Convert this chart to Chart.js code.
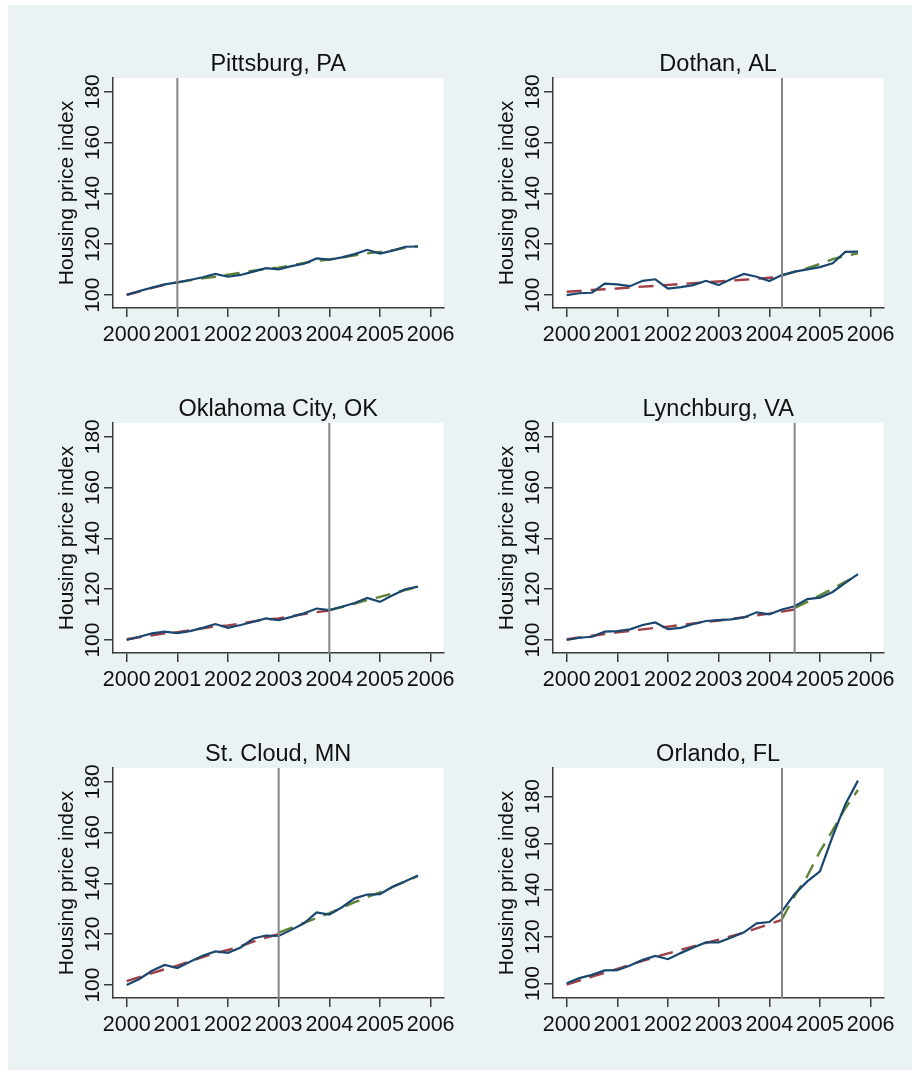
<!DOCTYPE html>
<html>
<head>
<meta charset="utf-8">
<script src="https://cdn.jsdelivr.net/npm/chart.js@4.4.1/dist/chart.umd.min.js"></script>
<style>
  body { margin: 0; background: #ffffff; }
  #bg { position: absolute; left: 8px; top: 5px; width: 904px; height: 1065px; background: #eaf2f3; }
  canvas { position: absolute; }
</style>
</head>
<body>
<div id="bg"></div>
<canvas id="c0" width="440" height="345" style="left:20px;top:30px"></canvas>
<canvas id="c1" width="440" height="345" style="left:460px;top:30px"></canvas>
<canvas id="c2" width="440" height="345" style="left:20px;top:375px"></canvas>
<canvas id="c3" width="440" height="345" style="left:460px;top:375px"></canvas>
<canvas id="c4" width="440" height="345" style="left:20px;top:720px"></canvas>
<canvas id="c5" width="440" height="345" style="left:460px;top:720px"></canvas>
<script>
// quarterly dates shared by every panel
const quarters = [2000, 2000.25, 2000.5, 2000.75, 2001, 2001.25, 2001.5, 2001.75,
                  2002, 2002.25, 2002.5, 2002.75, 2003, 2003.25, 2003.5, 2003.75,
                  2004, 2004.25, 2004.5, 2004.75, 2005, 2005.25, 2005.5, 2005.75];
const xTicks = [2000, 2001, 2002, 2003, 2004, 2005, 2006];
const yTicks = [100, 120, 140, 160, 180];

const pittsburgActual = [100.0, 101.6, 102.9, 104.2, 105.0, 105.9, 107.0, 108.3, 107.2, 107.9, 109.2, 110.6,
                         110.1, 111.4, 112.3, 114.4, 113.9, 114.8, 116.1, 117.8, 116.3, 117.5, 119.0, 119.1];
const pittsburgPre = [100.1, 101.4, 102.8, 104.0, 105.0];
const pittsburgPost = [105.0, 105.8, 106.6, 107.2, 108.0, 108.8, 109.6, 110.3, 110.8, 111.7,
                       112.6, 113.4, 114.0, 114.8, 115.6, 116.4, 117.0, 117.6, 118.6, 119.2];

const dothanActual = [100.0, 100.7, 100.9, 104.5, 104.2, 103.5, 105.6, 106.2, 102.5, 103.1, 103.9, 105.6,
                      103.9, 106.3, 108.3, 107.2, 105.5, 107.9, 109.2, 110.1, 111.0, 112.5, 117.0, 117.1];
const dothanPre = [101.3, 101.6, 102.0, 102.3, 102.6, 103.0, 103.3, 103.6, 104.0,
                   104.3, 104.7, 105.0, 105.3, 105.7, 106.0, 106.4, 106.8, 107.1];
const dothanPost = [107.6, 109.1, 110.6, 112.2, 114.1, 115.4, 116.4];

const okcActual = [100.0, 101.3, 102.6, 103.3, 102.7, 103.5, 104.8, 106.3, 104.8, 105.9, 107.2, 108.5,
                   107.8, 109.1, 110.5, 112.4, 111.8, 113.1, 114.6, 116.6, 115.0, 117.6, 120.0, 121.0];
const okcPre = [100.3, 101.1, 101.9, 102.6, 103.1, 103.8, 104.6, 105.4, 105.7,
                106.5, 107.3, 108.1, 108.5, 109.4, 110.2, 111.0, 111.6];
const okcPost = [111.8, 113.0, 114.3, 115.7, 117.0, 118.3, 119.7, 120.8];

const lynchburgActual = [100.0, 100.9, 101.3, 103.3, 103.5, 104.2, 105.9, 106.9, 104.3, 104.8, 106.3, 107.5,
                         107.8, 108.1, 108.9, 110.9, 110.1, 112.0, 113.3, 116.1, 116.7, 118.9, 122.5, 125.9];
const lynchburgPre = [100.3, 101.0, 101.7, 102.4, 103.0, 103.6, 104.2, 104.8, 105.3, 105.9,
                      106.5, 107.1, 107.7, 108.3, 109.0, 109.7, 110.4, 111.2, 112.0];
const lynchburgPost = [112.6, 115.0, 117.6, 120.2, 122.9, 125.5];

const stCloudActual = [100.0, 102.4, 105.6, 107.9, 106.7, 109.2, 111.5, 113.2, 112.7, 114.8, 118.3, 119.5,
                       119.3, 121.7, 124.3, 128.6, 127.7, 130.6, 134.1, 135.6, 135.8, 138.7, 140.8, 143.1];
const stCloudPre = [101.5, 103.1, 104.7, 106.2, 107.6, 109.3, 111.0, 112.6, 113.8, 115.3, 117.1, 118.7, 120.0];
const stCloudPost = [120.6, 122.5, 124.5, 126.4, 128.3, 130.4, 132.6, 134.6, 136.5, 138.6, 140.7, 142.9];

const orlandoActual = [100.1, 102.3, 103.7, 105.6, 105.7, 107.7, 110.1, 111.8, 110.4, 113.0, 115.4, 117.6,
                       117.6, 119.7, 121.9, 125.7, 126.3, 130.9, 138.3, 143.7, 148.0, 163.0, 176.6, 186.8];
const orlandoPre = [99.5, 101.2, 102.9, 104.6, 106.3, 108.0, 109.7, 111.3, 112.9,
                    114.4, 115.9, 117.4, 118.8, 120.3, 121.8, 123.6, 125.4, 127.2];
const orlandoPost = [127.5, 137.5, 146.0, 156.5, 165.5, 175.0, 182.8];

const panels = [
  { title: 'Pittsburg, PA', breakAt: 2001, actual: pittsburgActual, pre: pittsburgPre, post: pittsburgPost, yMin: 94.9, yMax: 185.4 },
  { title: 'Dothan, AL', breakAt: 2004.25, actual: dothanActual, pre: dothanPre, post: dothanPost, yMin: 94.9, yMax: 185.4 },
  { title: 'Oklahoma City, OK', breakAt: 2004, actual: okcActual, pre: okcPre, post: okcPost, yMin: 94.9, yMax: 185.4 },
  { title: 'Lynchburg, VA', breakAt: 2004.5, actual: lynchburgActual, pre: lynchburgPre, post: lynchburgPost, yMin: 94.9, yMax: 185.4 },
  { title: 'St. Cloud, MN', breakAt: 2003, actual: stCloudActual, pre: stCloudPre, post: stCloudPost, yMin: 94.9, yMax: 185.4 },
  { title: 'Orlando, FL', breakAt: 2004.25, actual: orlandoActual, pre: orlandoPre, post: orlandoPost, yMin: 93.8, yMax: 192.2 },
];

const FONT = '"Liberation Sans", Arial, sans-serif';
const axisColor = '#3a3a3a';
const textColor = '#111111';

// pair values with their quarter, starting at a given quarter index
function pts(values, offset) {
  return values.map((v, i) => ({ x: quarters[offset + i], y: v }));
}

// white plot region, break line, title and rotated y labels (Stata look)
const panelPlugin = {
  id: 'panel',
  beforeDraw(chart) {
    const { ctx, chartArea: a } = chart;
    ctx.save();
    ctx.fillStyle = '#ffffff';
    ctx.fillRect(a.left, a.top, a.right - a.left, a.bottom - a.top);
    ctx.restore();
  },
  afterDatasetsDraw(chart, args, opts) {
    const { ctx, chartArea: a } = chart;
    const px = chart.scales.x.getPixelForValue(opts.breakAt);
    ctx.save();
    ctx.strokeStyle = '#858585';
    ctx.lineWidth = 2;
    ctx.beginPath();
    ctx.moveTo(px, a.top);
    ctx.lineTo(px, a.bottom);
    ctx.stroke();
    ctx.restore();
  },
  afterDraw(chart, args, opts) {
    const { ctx, chartArea: a } = chart;
    const yScale = chart.scales.y;
    ctx.save();
    ctx.fillStyle = textColor;
    // title
    ctx.font = '23.5px ' + FONT;
    ctx.textAlign = 'center';
    ctx.textBaseline = 'alphabetic';
    ctx.fillText(opts.title, (a.left + a.right) / 2, 41);
    // y tick labels, rotated
    ctx.font = '21px ' + FONT;
    yScale.ticks.forEach(t => {
      const py = yScale.getPixelForValue(t.value);
      ctx.save();
      ctx.translate(78.5, py);
      ctx.rotate(-Math.PI / 2);
      ctx.fillText(String(t.value), 0, 0);
      ctx.restore();
    });
    // y axis title
    ctx.font = '21px ' + FONT;
    ctx.save();
    ctx.translate(52.5, (a.top + a.bottom) / 2);
    ctx.rotate(-Math.PI / 2);
    ctx.fillText('Housing price index', 0, 0);
    ctx.restore();
    ctx.restore();
  }
};

panels.forEach((p, idx) => {
  const ctx = document.getElementById('c' + idx).getContext('2d');
  new Chart(ctx, {
    type: 'line',
    data: {
      datasets: [
        {
          label: 'Actual',
          data: pts(p.actual, 0),
          borderColor: '#1a476f',
          borderWidth: 2.2,
        },
        {
          label: 'Fit before',
          data: pts(p.pre, 0),
          borderColor: '#a03e45',
          borderWidth: 2.4,
          borderDash: [15, 9],
        },
        {
          label: 'Fit after',
          data: pts(p.post, quarters.length - p.post.length),
          borderColor: '#5e8236',
          borderWidth: 2.4,
          borderDash: [15, 9],
        },
      ]
    },
    options: {
      responsive: false,
      animation: false,
      devicePixelRatio: 1,
      layout: { autoPadding: false, padding: { top: 48, right: 12, bottom: 0, left: 0 } },
      elements: { point: { radius: 0, hoverRadius: 0 }, line: { tension: 0, fill: false } },
      plugins: {
        legend: { display: false },
        tooltip: { enabled: false },
        title: { display: false },
        panel: { title: p.title, breakAt: p.breakAt },
      },
      scales: {
        x: {
          type: 'linear',
          min: 1999.73,
          max: 2006.25,
          afterBuildTicks: s => { s.ticks = xTicks.map(v => ({ value: v })); },
          afterFit: s => { s.height = 67; },
          grid: { drawOnChartArea: false, drawTicks: true, tickLength: 9, color: axisColor, lineWidth: 1.5 },
          border: { display: true, color: axisColor, width: 1.5 },
          ticks: {
            color: textColor,
            font: { family: FONT, size: 21.5 },
            padding: 5,
            maxRotation: 0,
            autoSkip: false,
            callback: v => String(v),
          },
        },
        y: {
          type: 'linear',
          min: p.yMin,
          max: p.yMax,
          afterBuildTicks: s => { s.ticks = yTicks.map(v => ({ value: v })); },
          afterFit: s => { s.width = 93; },
          grid: { drawOnChartArea: false, drawTicks: true, tickLength: 9, color: axisColor, lineWidth: 1.5 },
          border: { display: true, color: axisColor, width: 1.5 },
          ticks: { display: false },
        },
      },
    },
    plugins: [panelPlugin],
  });
});
</script>
</body>
</html>
